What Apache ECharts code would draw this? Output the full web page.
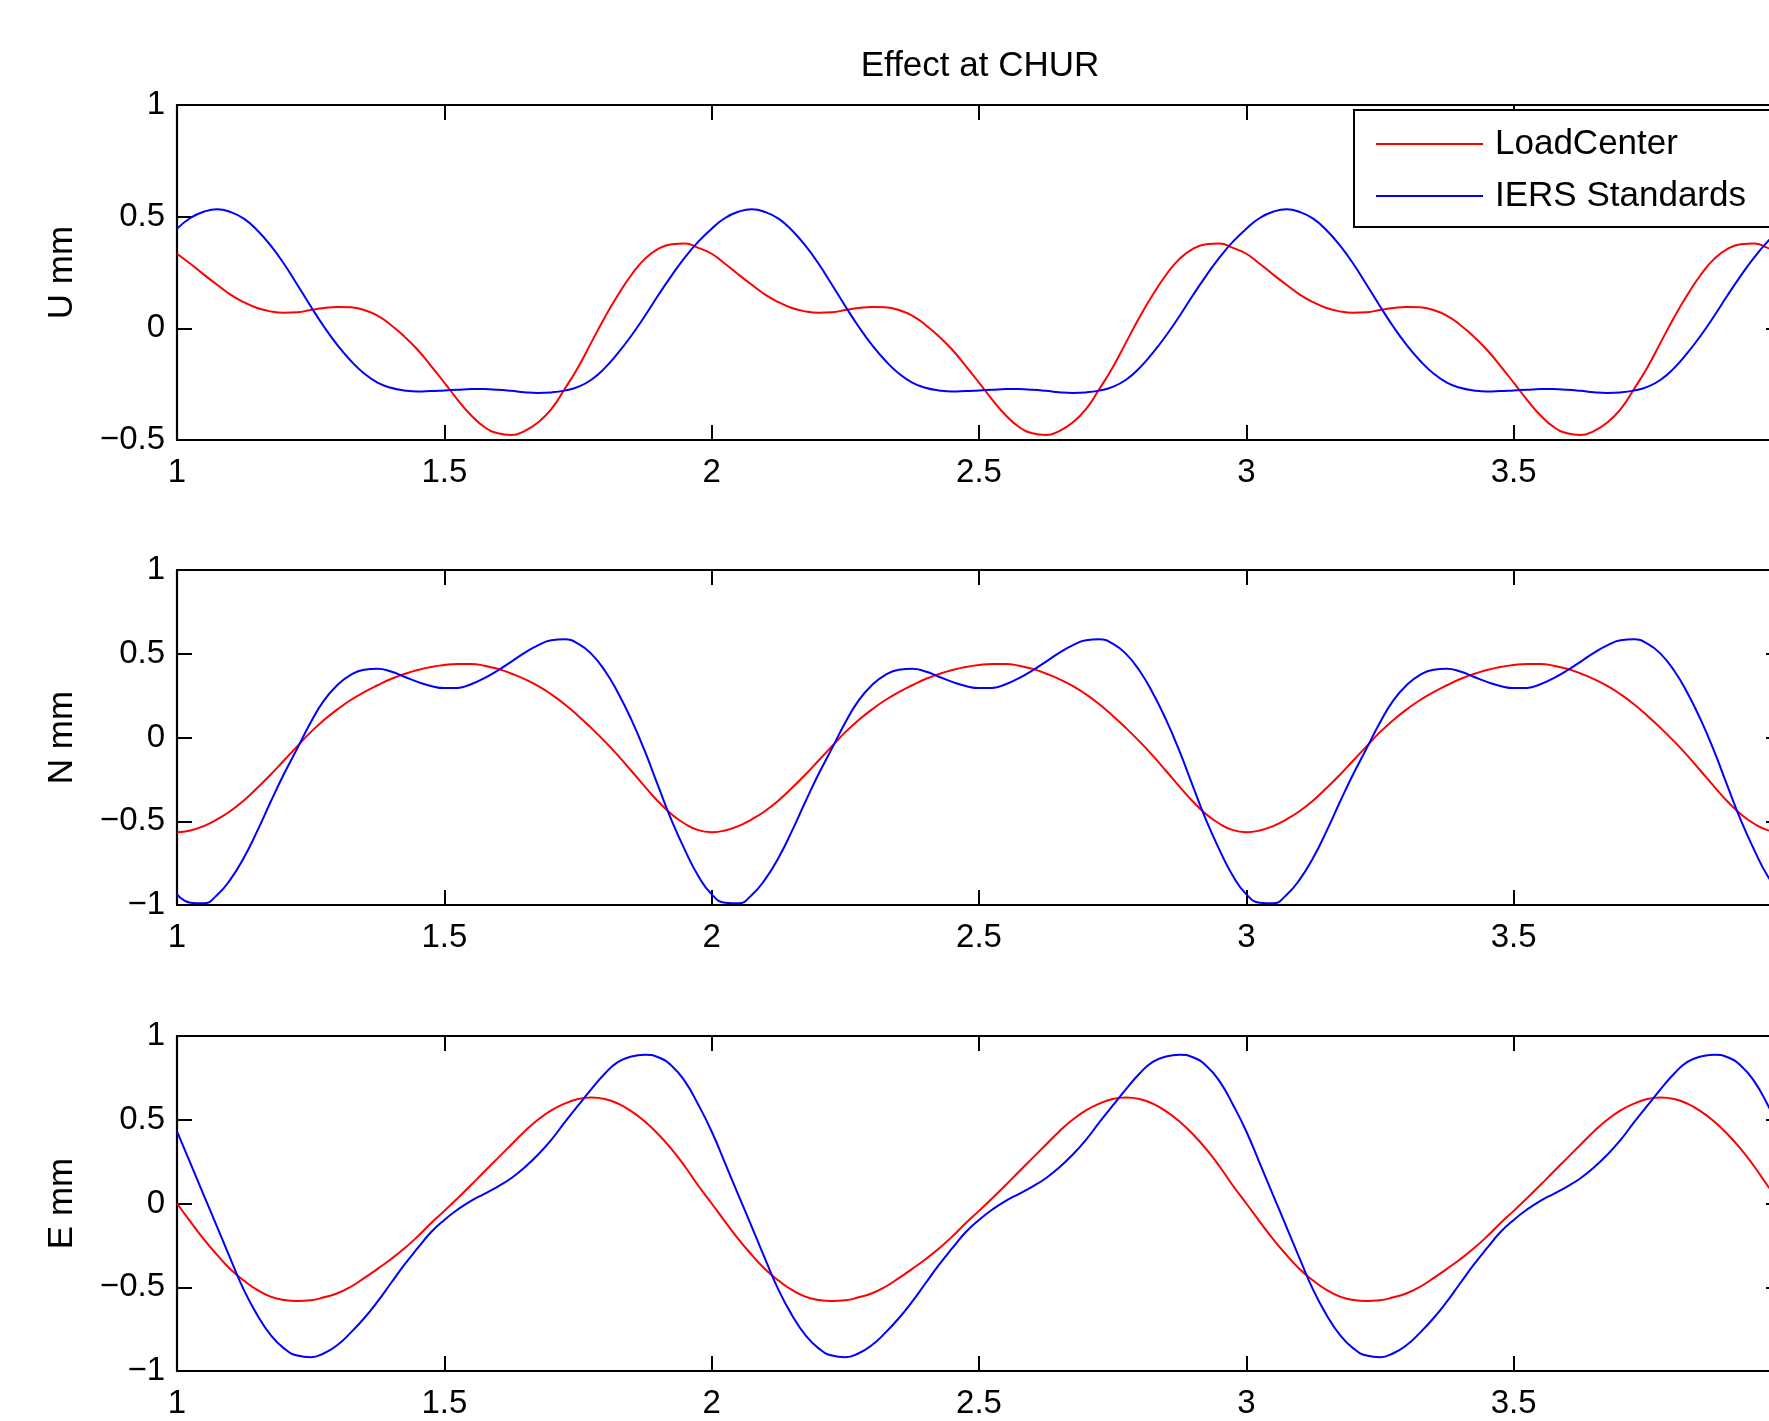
<!DOCTYPE html>
<html>
<head>
<meta charset="utf-8">
<title>Effect at CHUR</title>
<script src="https://cdn.jsdelivr.net/npm/echarts@6/dist/echarts.min.js"></script>
<style>
  html, body { margin: 0; padding: 0; background: #fff; }
  #chart { width: 1769px; height: 1421px; }
</style>
</head>
<body>
<div id="chart"></div>
<script>
// one day of the tidal signal, every 0.025 day
const phase = [0, 0.025, 0.05, 0.075, 0.1, 0.125, 0.15, 0.175, 0.2, 0.225,
  0.25, 0.275, 0.3, 0.325, 0.35, 0.375, 0.4, 0.425, 0.45, 0.475,
  0.5, 0.525, 0.55, 0.575, 0.6, 0.625, 0.65, 0.675, 0.7, 0.725,
  0.75, 0.775, 0.8, 0.825, 0.85, 0.875, 0.9, 0.925, 0.95, 0.975];
// the same day repeats across the plotted span
const days = [1, 2, 3];
const xEnd = 4;

const uLoad = [0.334, 0.289, 0.241, 0.195, 0.151, 0.117, 0.091, 0.076, 0.070, 0.072,
  0.082, 0.091, 0.096, 0.094, 0.082, 0.057, 0.015, -0.036, -0.096, -0.168,
  -0.243, -0.320, -0.389, -0.442, -0.470, -0.478, -0.460, -0.422, -0.362, -0.272,
  -0.175, -0.063, 0.049, 0.150, 0.240, 0.311, 0.356, 0.377, 0.380, 0.360];
const uIers = [0.446, 0.494, 0.522, 0.533, 0.521, 0.491, 0.439, 0.371, 0.289, 0.195,
  0.099, 0.007, -0.075, -0.145, -0.202, -0.243, -0.266, -0.278, -0.283, -0.281,
  -0.278, -0.275, -0.272, -0.272, -0.275, -0.280, -0.286, -0.289, -0.287, -0.279,
  -0.262, -0.230, -0.178, -0.110, -0.032, 0.055, 0.148, 0.236, 0.318, 0.388];

const nLoad = [-0.565, -0.555, -0.529, -0.489, -0.439, -0.376, -0.302, -0.222, -0.137, -0.052,
  0.032, 0.105, 0.168, 0.224, 0.271, 0.312, 0.349, 0.379, 0.403, 0.421,
  0.433, 0.439, 0.439, 0.429, 0.410, 0.382, 0.349, 0.308, 0.258, 0.199,
  0.130, 0.056, -0.023, -0.108, -0.200, -0.293, -0.382, -0.458, -0.515, -0.553];
const nIers = [-0.936, -0.986, -0.990, -0.940, -0.847, -0.718, -0.559, -0.385, -0.218, -0.065,
  0.090, 0.222, 0.314, 0.374, 0.404, 0.410, 0.394, 0.363, 0.332, 0.308,
  0.295, 0.296, 0.318, 0.355, 0.400, 0.452, 0.505, 0.550, 0.580, 0.586,
  0.561, 0.499, 0.400, 0.266, 0.105, -0.082, -0.290, -0.495, -0.672, -0.827];

const eLoad = [0.000, -0.108, -0.213, -0.307, -0.392, -0.460, -0.516, -0.556, -0.576, -0.582,
  -0.578, -0.560, -0.536, -0.497, -0.446, -0.390, -0.333, -0.269, -0.197, -0.118,
  -0.044, 0.032, 0.110, 0.191, 0.271, 0.351, 0.430, 0.500, 0.556, 0.596,
  0.624, 0.633, 0.624, 0.596, 0.550, 0.490, 0.414, 0.325, 0.221, 0.106];
const eIers = [0.430, 0.241, 0.050, -0.139, -0.331, -0.516, -0.665, -0.785, -0.865, -0.908,
  -0.918, -0.894, -0.845, -0.771, -0.685, -0.586, -0.476, -0.367, -0.267, -0.172,
  -0.098, -0.036, 0.016, 0.058, 0.101, 0.151, 0.215, 0.291, 0.380, 0.484,
  0.584, 0.683, 0.775, 0.845, 0.878, 0.888, 0.873, 0.823, 0.729, 0.590];

const panelNames = ['U mm', 'N mm', 'E mm'];
const panelMin = [-0.5, -1, -1];
const seriesNames = ['LoadCenter', 'IERS Standards'];
const panelData = [[uLoad, uIers], [nLoad, nIers], [eLoad, eIers]];

const FONT = '"Liberation Sans", Helvetica, Arial, sans-serif';
const colors = ['#ff0000', '#0000ff'];

function toPairs(vals) {
  const out = [];
  days.forEach(function (d) {
    phase.forEach(function (p, i) { out.push([d + p, vals[i]]); });
  });
  out.push([xEnd, vals[0]]);
  return out;
}

function tickFmt(v) {
  return v < 0 ? '\u2212' + Math.abs(v) : String(v);
}

const lineBlack = { color: '#000', width: 2.2 };
const tickBlack = { color: '#000', width: 2 };
const tops = [105, 570, 1036];

const grids = [], xAxes = [], yAxes = [], series = [];
for (let i = 0; i < 3; i++) {
  // the box runs a little past the right edge of the page, as in the original
  grids.push({ left: 177, top: tops[i], width: 1604, height: 335, outerBoundsMode: 'none', containLabel: false });
  // bottom axis with labels
  xAxes.push({
    type: 'value', gridIndex: i, position: 'bottom', min: 1, max: 4, interval: 0.5,
    axisLine: { onZero: false, lineStyle: lineBlack },
    axisTick: { inside: true, length: 15, lineStyle: tickBlack },
    axisLabel: { color: '#000', fontSize: 33, fontFamily: FONT, margin: 16, formatter: tickFmt },
    splitLine: { show: false }
  });
  // top box edge
  xAxes.push({
    type: 'value', gridIndex: i, position: 'top', min: 1, max: 4, interval: 0.5,
    axisLine: { onZero: false, lineStyle: lineBlack },
    axisTick: { inside: true, length: 15, lineStyle: tickBlack },
    axisLabel: { show: false },
    splitLine: { show: false }
  });
  yAxes.push({
    type: 'value', gridIndex: i, position: 'left', min: panelMin[i], max: 1, interval: 0.5,
    name: panelNames[i], nameLocation: 'middle', nameGap: 97,
    nameTextStyle: { color: '#000', fontSize: 35, fontFamily: FONT },
    axisLine: { onZero: false, lineStyle: lineBlack },
    axisTick: { inside: true, length: 15, lineStyle: tickBlack },
    axisLabel: { color: '#000', fontSize: 33, fontFamily: FONT, margin: 12, formatter: tickFmt },
    splitLine: { show: false }
  });
  yAxes.push({
    type: 'value', gridIndex: i, position: 'right', min: panelMin[i], max: 1, interval: 0.5,
    axisLine: { onZero: false, lineStyle: lineBlack },
    axisTick: { inside: true, length: 15, lineStyle: tickBlack },
    axisLabel: { show: false },
    splitLine: { show: false }
  });
  for (let s = 0; s < 2; s++) {
    series.push({
      name: seriesNames[s],
      type: 'line',
      xAxisIndex: i * 2,
      yAxisIndex: i * 2,
      data: toPairs(panelData[i][s]),
      symbol: 'none',
      showSymbol: false,
      smooth: 0.5,
      lineStyle: { color: colors[s], width: 2 },
      itemStyle: { color: colors[s] }
    });
  }
}

const chart = echarts.init(document.getElementById('chart'));
chart.setOption({
  animation: false,
  backgroundColor: '#fff',
  title: {
    text: 'Effect at CHUR',
    left: 980, top: 49, padding: 0,
    textAlign: 'center',
    textStyle: { color: '#000', fontSize: 35, fontWeight: 'normal', fontFamily: FONT }
  },
  legend: {
    data: seriesNames,
    orient: 'vertical',
    left: 1354, top: 110,
    padding: [14, 40, 11, 22],
    itemGap: 12,
    itemWidth: 107,
    itemHeight: 2,
    icon: 'rect',
    borderColor: '#000',
    borderWidth: 2,
    backgroundColor: '#fff',
    textStyle: { color: '#000', fontSize: 35, lineHeight: 40, fontFamily: FONT, padding: [0, 0, 0, 7] }
  },
  grid: grids,
  xAxis: xAxes,
  yAxis: yAxes,
  series: series
});
</script>
</body>
</html>
